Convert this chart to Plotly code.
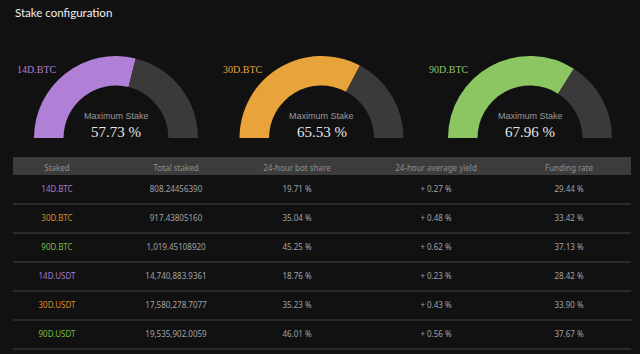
import plotly.graph_objects as go

W, H = 640, 354
BG = "#111111"

# ---- data ----
gauge_names = ["14D.BTC", "30D.BTC", "90D.BTC"]
gauge_values = [57.73, 65.53, 67.96]
gauge_colors = ["#b07fd6", "#e8a33a", "#8cc663"]
gauge_rest = "#3a3a3a"

col_headers = ["Staked", "Total staked", "24-hour bot share", "24-hour average yield", "Funding rate", ""]
staked = ["14D.BTC", "30D.BTC", "90D.BTC", "14D.USDT", "30D.USDT", "90D.USDT"]
staked_colors = ["#a47fd2", "#d98c2c", "#7bbb48", "#a47fd2", "#d98c2c", "#7bbb48"]
total_staked = ["808.24456390", "917.43805160", "1,019.45108920",
                "14,740,883.9361", "17,580,278.7077", "19,535,902.0059"]
bot_share = ["19.71 %", "35.04 %", "45.25 %", "18.76 %", "35.23 %", "46.01 %"]
avg_yield = ["+ 0.27 %", "+ 0.48 %", "+ 0.62 %", "+ 0.23 %", "+ 0.43 %", "+ 0.56 %"]
funding = ["29.44 %", "33.42 %", "37.13 %", "28.42 %", "33.90 %", "37.67 %"]

# ---- layout constants ----
gauge_cx = [116, 321.5, 530]
gauge_cy = 138
gauge_r = 82
gauge_hole = 0.64
label_x = [15, 221, 427]
label_y = 69

table_left, table_right, table_top = 13, 631, 157
header_band_h = 18      # visible header band
header_h = 21           # table header height (text offset)
row_h = 29
col_widths = [88, 150, 92, 186, 80, 22]


def px(x):
    return x / W


def py(y):
    return 1 - y / H


fig = go.Figure()

for i, v in enumerate(gauge_values):
    cx = gauge_cx[i]
    fig.add_trace(go.Pie(
        values=[v, 100 - v, 100],
        marker=dict(colors=[gauge_colors[i], gauge_rest, "rgba(0,0,0,0)"],
                    line=dict(width=0)),
        hole=gauge_hole,
        sort=False,
        direction="clockwise",
        rotation=-90,
        textinfo="none",
        hoverinfo="skip",
        showlegend=False,
        domain=dict(x=[px(cx - gauge_r), px(cx + gauge_r)],
                    y=[py(gauge_cy + gauge_r), py(gauge_cy - gauge_r)]),
    ))
    fig.add_annotation(text=gauge_names[i], x=px(label_x[i]), y=py(label_y),
                       xref="paper", yref="paper", xanchor="left", yanchor="middle",
                       showarrow=False,
                       font=dict(family="Liberation Serif", size=10, color=gauge_colors[i]))
    fig.add_annotation(text="Maximum Stake", x=px(cx), y=py(116),
                       xref="paper", yref="paper", xanchor="center", yanchor="middle",
                       showarrow=False,
                       font=dict(family="Liberation Sans", size=9, color="#9a9a9a"))
    fig.add_annotation(text=f"{v:.2f} %", x=px(cx), y=py(131.5),
                       xref="paper", yref="paper", xanchor="center", yanchor="middle",
                       showarrow=False,
                       font=dict(family="Liberation Serif", size=15, color="#e6e6e6"))

# header band (drawn beneath the transparent table)
fig.add_shape(type="rect", xref="paper", yref="paper", layer="below",
              x0=px(table_left), x1=px(table_right),
              y0=py(table_top + header_band_h), y1=py(table_top),
              fillcolor="#3c3c3c", line=dict(width=0))

cell_color = "#a3a3a3"
clear = "rgba(0,0,0,0)"
fig.add_trace(go.Table(
    domain=dict(x=[px(table_left), px(table_right)], y=[0, py(table_top)]),
    columnwidth=col_widths,
    header=dict(values=col_headers, fill_color=clear,
                line=dict(color=clear, width=0),
                align="center", height=header_h,
                font=dict(family="Noto Sans", size=8, color="#8e8e8e")),
    cells=dict(values=[staked, total_staked, bot_share, avg_yield, funding, [""] * len(staked)],
               fill_color=clear, line=dict(color=clear, width=0),
               align="center", height=row_h,
               font=dict(family="Noto Sans", size=8,
                         color=[staked_colors, cell_color, cell_color, cell_color, cell_color, cell_color])),
))

for k in range(1, len(staked) + 1):
    yy = table_top + header_band_h + k * row_h
    fig.add_shape(type="line", xref="paper", yref="paper",
                  x0=px(table_left), x1=px(table_right), y0=py(yy), y1=py(yy),
                  line=dict(color="#2a2a2a", width=2))

fig.add_annotation(text="Stake configuration", x=px(13), y=py(12),
                   xref="paper", yref="paper", xanchor="left", yanchor="middle",
                   showarrow=False,
                   font=dict(family="Lato", size=11.5, color="#f2f2f2"))

fig.update_layout(width=W, height=H, margin=dict(l=0, r=0, t=0, b=0),
                  paper_bgcolor=BG, plot_bgcolor=BG)

fig.write_html("out.html", config=dict(displayModeBar=False))
